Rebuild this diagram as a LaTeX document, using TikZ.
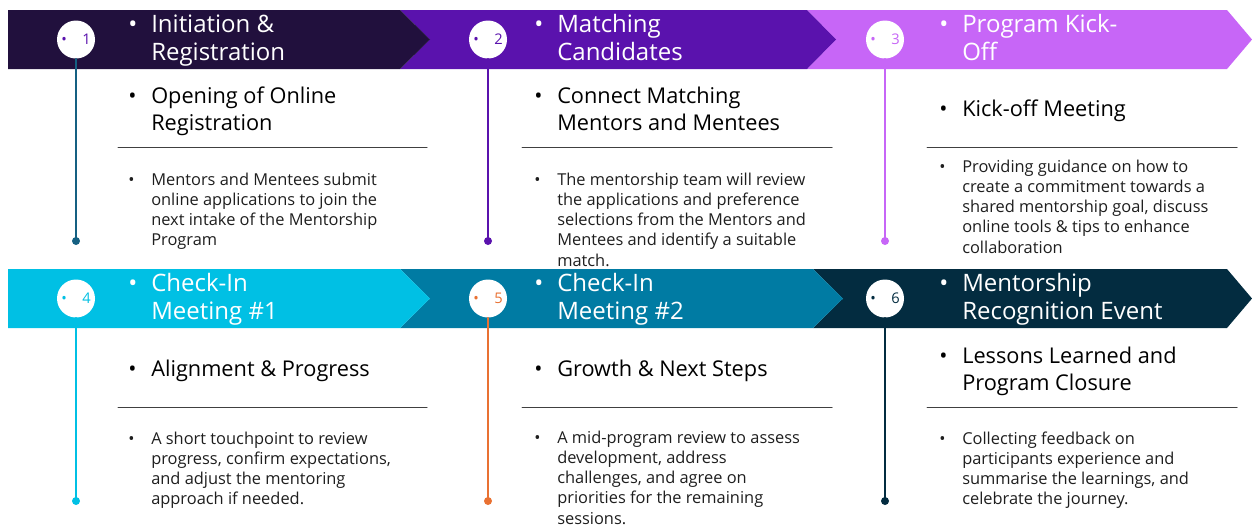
\documentclass[tikz,border=0pt]{standalone}
\usepackage{fontspec}
\setmainfont{Open Sans}
\usepackage{tikz}
\usetikzlibrary{calc}
\definecolor{stepOne}{HTML}{21103D}
\definecolor{stepTwo}{HTML}{5A12AD}
\definecolor{stepThree}{HTML}{C766F7}
\definecolor{stepFour}{HTML}{00C0E4}
\definecolor{stepFive}{HTML}{007BA3}
\definecolor{stepSix}{HTML}{032C40}
\definecolor{lineBlue}{HTML}{156082}
\definecolor{lineOrange}{HTML}{E97132}
\definecolor{ruleGray}{HTML}{404040}
\definecolor{bodyDark}{HTML}{1E1E1E}
% bullet with hanging text block
\newcommand{\stepitem}[1]{\makebox[17.25pt][l]{\textbullet}\parbox[t]{230pt}{\raggedright #1}}
\newcommand{\badgetext}[1]{\makebox[22pt]{\raisebox{0.2pt}{\fontsize{11}{11}\selectfont\textbullet}\hfill\fontsize{11}{11}\selectfont #1}}

\begin{document}
\begin{tikzpicture}[x=0.75pt, y=-0.75pt, line cap=round,
  badge/.style={circle, fill=white, minimum size=28.5pt, inner sep=0pt},
  headtext/.style={text=white, anchor=base west, inner sep=0pt, font=\fontsize{18}{21.5}\selectfont},
  subtext/.style={text=black, anchor=base west, inner sep=0pt, font=\fontsize{16.3}{20.3}\selectfont},
  bodytext/.style={text=bodyDark, anchor=base west, inner sep=0pt, font=\fontsize{12.3}{15.2}\selectfont},
  steprule/.style={draw=ruleGray, line width=0.75pt},
  stepline/.style={line width=1.1pt}]
  \useasboundingbox (0,0) rectangle (1252,526);

  % top row of bands
  \fill[stepThree] (807,10) -- (1227,10) -- (1252,39.5) -- (1227,69) -- (807,69) -- (836,39.5) -- cycle;
  \fill[stepTwo] (400,10) -- (807,10) -- (836,39.5) -- (807,69) -- (400,69) -- (430,39.5) -- cycle;
  \fill[stepOne] (8,10) -- (400,10) -- (430,39.5) -- (400,69) -- (8,69) -- cycle;

  % bottom row of bands
  \fill[stepSix] (813,269) -- (1227,269) -- (1252,298.5) -- (1227,328) -- (813,328) -- (843,298.5) -- cycle;
  \fill[stepFive] (400,269) -- (813,269) -- (843,298.5) -- (813,328) -- (400,328) -- (430,298.5) -- cycle;
  \fill[stepFour] (8,269) -- (400,269) -- (430,298.5) -- (400,328) -- (8,328) -- cycle;

  % badges
  \node[badge, text=stepTwo] (c1) at (76,39.5) {\badgetext{1}};
  \node[badge, text=stepTwo] (c2) at (488,39.5) {\badgetext{2}};
  \node[badge, text=stepThree] (c3) at (885,39.5) {\badgetext{3}};
  \node[badge, text=stepFour] (c4) at (76,298.5) {\badgetext{4}};
  \node[badge, text=lineOrange] (c5) at (488,298.5) {\badgetext{5}};
  \node[badge, text=stepSix] (c6) at (885,298.5) {\badgetext{6}};

  % timeline stems
  \coordinate (d1) at (76,241);
  \coordinate (d2) at (488,241);
  \coordinate (d3) at (885,241);
  \coordinate (d4) at (76,501);
  \coordinate (d5) at (488,501);
  \coordinate (d6) at (885,501);
  \draw[stepline, lineBlue] (c1.south) -- (d1);
  \fill[lineBlue] (d1) circle (3pt);
  \draw[stepline, stepTwo] (c2.south) -- (d2);
  \fill[stepTwo] (d2) circle (3pt);
  \draw[stepline, stepThree] (c3.south) -- (d3);
  \fill[stepThree] (d3) circle (3pt);
  \draw[stepline, stepFour] (c4.south) -- (d4);
  \fill[stepFour] (d4) circle (3pt);
  \draw[stepline, lineOrange] (c5.south) -- (d5);
  \fill[lineOrange] (d5) circle (3pt);
  \draw[stepline, stepSix] (c6.south) -- (d6);
  \fill[stepSix] (d6) circle (3pt);

  % band titles
  \node[headtext] (h1) at (128,32) {\stepitem{Initiation \&\\Registration}};
  \node[headtext] (h2) at (534,32) {\stepitem{Matching\\Candidates}};
  \node[headtext] (h3) at (939,32) {\stepitem{Program Kick-\\Off}};
  \node[headtext] (h4) at (128,291) {\stepitem{Check-In\\Meeting \#1}};
  \node[headtext] (h5) at (534,291) {\stepitem{Check-In\\Meeting \#2}};
  \node[headtext] (h6) at (939,291) {\stepitem{Mentorship\\Recognition Event}};

  % sub titles
  \node[subtext] (s1) at (128,103.5) {\stepitem{Opening of Online\\Registration}};
  \node[subtext] (s2) at (534,103.5) {\stepitem{Connect Matching\\Mentors and Mentees}};
  \node[subtext] (s3) at (939,116.5) {\stepitem{Kick-off Meeting}};
  \node[subtext] (s4) at (128,376.5) {\stepitem{Alignment \& Progress}};
  \node[subtext] (s5) at (534,376.5) {\stepitem{Growth \& Next Steps}};
  \node[subtext] (s6) at (939,363.5) {\stepitem{Lessons Learned and\\Program Closure}};

  % rules
  \draw[steprule] (118,147) -- (427,147);
  \draw[steprule] (522,147) -- (832,147);
  \draw[steprule] (927,147) -- (1237,147);
  \draw[steprule] (118,407) -- (427,407);
  \draw[steprule] (522,407) -- (832,407);
  \draw[steprule] (927,407) -- (1237,407);

  % body texts
  \node[bodytext] (b1) at (128,185) {\stepitem{Mentors and Mentees submit\\online applications to join the\\next intake of the Mentorship\\Program}};
  \node[bodytext] (b2) at (534,185) {\stepitem{The mentorship team will review\\the applications and preference\\selections from the Mentors and\\Mentees and identify a suitable\\match.}};
  \node[bodytext] (b3) at (939,172) {\stepitem{Providing guidance on how to\\create a commitment towards a\\shared mentorship goal, discuss\\online tools \& tips to enhance\\collaboration}};
  \node[bodytext] (b4) at (128,444) {\stepitem{A short touchpoint to review\\progress, confirm expectations,\\and adjust the mentoring\\approach if needed.}};
  \node[bodytext] (b5) at (534,443) {\stepitem{A mid-program review to assess\\development, address\\challenges, and agree on\\priorities for the remaining\\sessions.}};
  \node[bodytext] (b6) at (939,444) {\stepitem{Collecting feedback on\\participants experience and\\summarise the learnings, and\\celebrate the journey.}};
\end{tikzpicture}
\end{document}
